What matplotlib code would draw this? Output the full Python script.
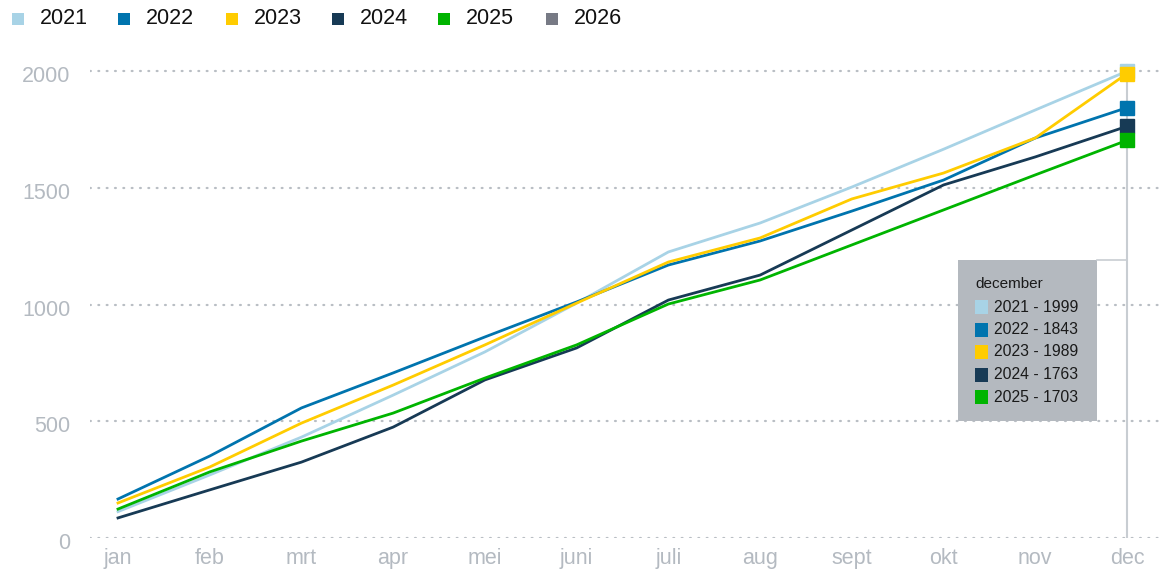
import matplotlib.pyplot as plt
from matplotlib.patches import Rectangle
from matplotlib.transforms import ScaledTranslation

# data
months = ['jan', 'feb', 'mrt', 'apr', 'mei', 'juni', 'juli', 'aug', 'sept', 'okt', 'nov', 'dec']
years = ['2021', '2022', '2023', '2024', '2025', '2026']
colors = ['#a8d3e6', '#0074ae', '#ffcc00', '#173a55', '#00b400', '#777a85']

v2021 = [113, 270, 432, 612, 797, 1006, 1225, 1349, 1503, 1665, 1833, 1999]
v2022 = [167, 351, 557, 707, 861, 1011, 1169, 1272, 1400, 1533, 1713, 1843]
v2023 = [150, 304, 492, 655, 827, 1006, 1182, 1285, 1452, 1563, 1713, 1989]
v2024 = [86, 206, 325, 475, 677, 814, 1019, 1126, 1319, 1512, 1632, 1763]
v2025 = [124, 283, 415, 535, 685, 827, 1002, 1105, 1255, 1405, 1555, 1703]
series = [v2021, v2022, v2023, v2024, v2025]

tick_color = '#b4bac1'
font_ticks = 'Liberation Sans'

fig = plt.figure(figsize=(11.64, 5.71), dpi=100)
ax = fig.add_axes([90 / 1164, 1 - 538 / 571, (1164 - 90) / 1164, (538 - 60) / 571])

x = list(range(len(months)))
ax.set_xlim(-28 / 91.73, 11 + 37 / 91.73)
ax.set_ylim(0, 2000 * (538 - 60) / 467)

# dotted grid
for yv in [0, 500, 1000, 1500, 2000]:
    ax.axhline(yv, color='#b9bec4', lw=1.6, ls=(0, (0.4, 3.35)),
               dash_capstyle='round', zorder=1)

# hover line at december
ax.axvline(11, ymin=0, ymax=(538 - 65) / (538 - 60), color='#c8cdd2', lw=1.5, zorder=2)

order = [0, 1, 3, 4, 2]
for i, vals in enumerate(series):
    ax.plot(x, vals, color=colors[i], lw=2, zorder=3 + i, solid_joinstyle='round')
for i in order:
    ax.plot(x[-1], series[i][-1], marker='s', ms=10, color=colors[i],
            mec=colors[i], zorder=10 + i, clip_on=False)

ax.set_xticks(x)
ax.set_xticklabels(months)
ax.set_yticks([0, 500, 1000, 1500, 2000])
ax.tick_params(length=0, labelsize=15.5, labelcolor=tick_color, pad=7)
ax.tick_params(axis='y', pad=14)
shift = ScaledTranslation(0, -3 / 100, fig.dpi_scale_trans)
for lbl in ax.get_yticklabels():
    lbl.set_transform(lbl.get_transform() + shift)
for lbl in ax.get_xticklabels() + ax.get_yticklabels():
    lbl.set_fontfamily(font_ticks)
for s in ax.spines.values():
    s.set_visible(False)

# tooltip box
box_x0 = (958 - 90) / 1074
box_x1 = (1097 - 90) / 1074
box_y0 = (538 - 421) / 478
box_y1 = (538 - 260) / 478
ax.add_patch(Rectangle((box_x0, box_y0), box_x1 - box_x0, box_y1 - box_y0,
                       transform=ax.transAxes, facecolor='#b4b9bf',
                       edgecolor='none', zorder=20))
ax.plot([box_x1, (1127 - 90) / 1074], [box_y1, box_y1], transform=ax.transAxes,
        color='#c8cdd2', lw=1.2, zorder=20)
fig.text(975 / 1164, 1 - 284 / 571, 'december', fontsize=11,
         family=font_ticks, color='#1a1a1a', va='center')
for k in range(5):
    yy = 1 - (307 + 22.5 * k) / 571
    fig.patches.append(Rectangle((975 / 1164, yy - 7 / 571), 13 / 1164, 14 / 571,
                                 transform=fig.transFigure, facecolor=colors[k],
                                 edgecolor='none', zorder=21))
    fig.text(994 / 1164, yy, f'{years[k]} - {series[k][-1]}', fontsize=11.3,
             family=font_ticks, color='#1a1a1a', va='center')

# top legend
leg_x = [12, 118, 226, 332, 438, 546]
for k in range(6):
    fig.patches.append(Rectangle((leg_x[k] / 1164, 1 - 25 / 571), 12 / 1164, 12 / 571,
                                 transform=fig.transFigure, facecolor=colors[k],
                                 edgecolor='none'))
    fig.text((leg_x[k] + 28) / 1164, 1 - 19 / 571, years[k], fontsize=15.5,
             family=font_ticks, color='#111111', va='center')

fig.savefig('out.png', dpi=100)
